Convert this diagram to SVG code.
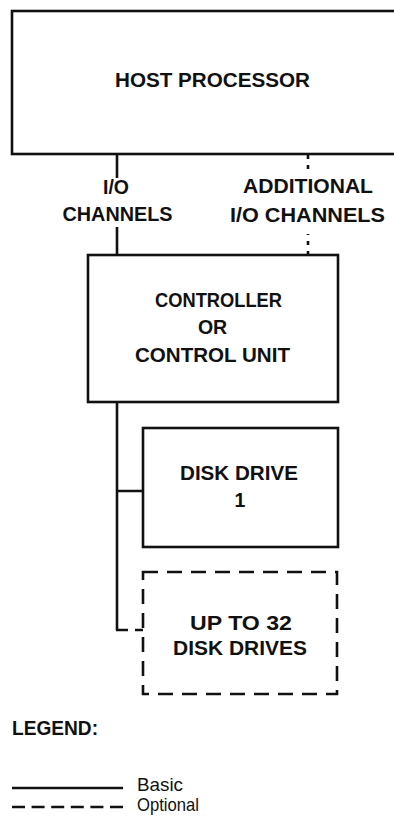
<svg xmlns="http://www.w3.org/2000/svg" width="394" height="823" viewBox="0 0 394 823">
<style>
.box{fill:none;stroke:#111;stroke-width:2.6}
.dash{stroke-dasharray:15 9}
.ln{fill:none;stroke:#111;stroke-width:2.6}
.dot{stroke-dasharray:4 6}
text{font-family:"Liberation Sans",Arial,sans-serif;font-weight:bold;font-size:19.5px;fill:#111;text-anchor:middle}
.lg{text-anchor:start}
.sm{font-weight:normal;font-size:18.5px;text-anchor:start}
</style>
<rect width="394" height="823" fill="#fff"/>
<g id="host">
<rect class="box" x="12" y="11" width="400" height="143"/>
<text x="212.5" y="87" textLength="195" lengthAdjust="spacingAndGlyphs">HOST PROCESSOR</text>
</g>
<g id="controller">
<rect class="box" x="88" y="255" width="250" height="147"/>
<text x="218.5" y="307" textLength="127" lengthAdjust="spacingAndGlyphs">CONTROLLER</text>
<text x="212.5" y="334">OR</text>
<text x="212.5" y="362" textLength="155" lengthAdjust="spacingAndGlyphs">CONTROL UNIT</text>
</g>
<g id="disk1">
<rect class="box" x="143" y="428" width="195" height="119"/>
<text x="239" y="480" textLength="118" lengthAdjust="spacingAndGlyphs">DISK DRIVE</text>
<text x="240" y="507">1</text>
</g>
<g id="diskN">
<rect class="box dash" x="143" y="572" width="194" height="122"/>
<text x="241" y="630" textLength="102" lengthAdjust="spacingAndGlyphs">UP TO 32</text>
<text x="240" y="655" textLength="134" lengthAdjust="spacingAndGlyphs">DISK DRIVES</text>
</g>
<g id="labels">
<text x="116" y="194">I/O</text>
<text x="117.5" y="221" textLength="110" lengthAdjust="spacingAndGlyphs">CHANNELS</text>
<text x="308" y="193" textLength="130" lengthAdjust="spacingAndGlyphs">ADDITIONAL</text>
<text x="307.5" y="222" textLength="155" lengthAdjust="spacingAndGlyphs">I/O CHANNELS</text>
</g>
<g id="connectors">
<path class="ln" d="M117 154V178M117 227V255"/>
<path class="ln dot" d="M308 155V173M308 255V234"/>
<path class="ln" d="M117 402V630M117 491H143"/>
<path class="ln" d="M116 630H128M135 630H143"/>
</g>
<g id="legend">
<text class="lg" x="12" y="735" textLength="86" lengthAdjust="spacingAndGlyphs">LEGEND:</text>
<path class="ln" d="M12 788H123"/>
<path class="ln" d="M12 807H123" stroke-dasharray="13 6.6"/>
<text class="sm" x="137" y="791" textLength="46" lengthAdjust="spacingAndGlyphs">Basic</text>
<text class="sm" x="137" y="811" textLength="62" lengthAdjust="spacingAndGlyphs">Optional</text>
</g>
</svg>
